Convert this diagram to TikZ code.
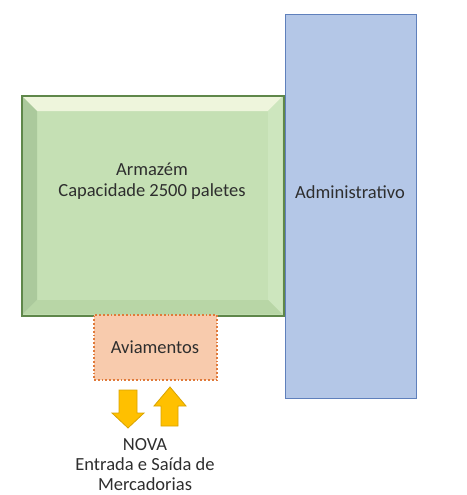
\documentclass[tikz,border=0pt]{standalone}
\usepackage{fontspec}
\setmainfont{Carlito}
\definecolor{gfill}{HTML}{C5E0B4}
\definecolor{gline}{HTML}{5F874A}
\definecolor{gtop}{HTML}{EEF5DC}
\definecolor{gleft}{HTML}{ABC99C}
\definecolor{gright}{HTML}{CDE6BE}
\definecolor{gbot}{HTML}{B8D6A6}
\definecolor{bfill}{HTML}{B4C7E7}
\definecolor{bline}{HTML}{5F80BC}
\definecolor{ofill}{HTML}{F8CBAD}
\definecolor{oline}{HTML}{E07A3A}
\definecolor{afill}{HTML}{FFC000}
\definecolor{aline}{HTML}{D9A300}
\definecolor{txt}{HTML}{2E2E2E}
\tikzset{
  lbl/.style={font=\fontsize{18.5}{21}\selectfont, text=txt, align=center, inner sep=0pt},
  boxline/.style={line width=1.4pt},
  arrowshape/.style={fill=afill, draw=aline, line width=0.8pt, line join=miter}
}
\begin{document}
\begin{tikzpicture}[x=1pt,y=-1pt]
\useasboundingbox (0,0) rectangle (466,495);
% Administrativo
\node[draw=bline, fill=bfill, boxline, minimum width=131pt, minimum height=384pt, inner sep=0pt, anchor=north west] (adm) at (285,14) {};
\node[lbl] (admt) at (350,192) {Administrativo};
% Armazem (bevel)
\node[draw=gline, fill=gfill, boxline, minimum width=261pt, minimum height=219pt, inner sep=0pt, anchor=north west] (arm) at (22,96) {};
\fill[gtop] (22.7,96.7) -- (282.3,96.7) -- (268,111) -- (37,111) -- cycle;
\fill[gleft] (22.7,96.7) -- (37,111) -- (37,300) -- (22.7,314.3) -- cycle;
\fill[gright] (282.3,96.7) -- (268,111) -- (268,300) -- (282.3,314.3) -- cycle;
\fill[gbot] (22.7,314.3) -- (37,300) -- (268,300) -- (282.3,314.3) -- cycle;
\draw[gline, boxline] (arm.north west) rectangle (arm.south east);
\node[lbl] (armt) at (152,181) {Armazém\\Capacidade 2500 paletes};
% Aviamentos
\node[draw=oline, fill=ofill, line width=1.8pt, dotted, minimum width=123pt, minimum height=65pt, inner sep=0pt, anchor=north west] (avi) at (93,314) {};
\node[lbl] (avit) at (155,347) {Aviamentos};
% arrows
\draw[arrowshape] (119,390) -- (137,390) -- (137,413) -- (144,413) -- (128,428) -- (112,413) -- (119,413) -- cycle;
\draw[arrowshape] (161,426) -- (178,426) -- (178,406) -- (186,406) -- (170,387) -- (154,406) -- (161,406) -- cycle;
% bottom text
\node[lbl, font=\fontsize{18.5}{20}\selectfont] (nova) at (145,465) {NOVA\\Entrada e Saída de\\Mercadorias};
\end{tikzpicture}
\end{document}
